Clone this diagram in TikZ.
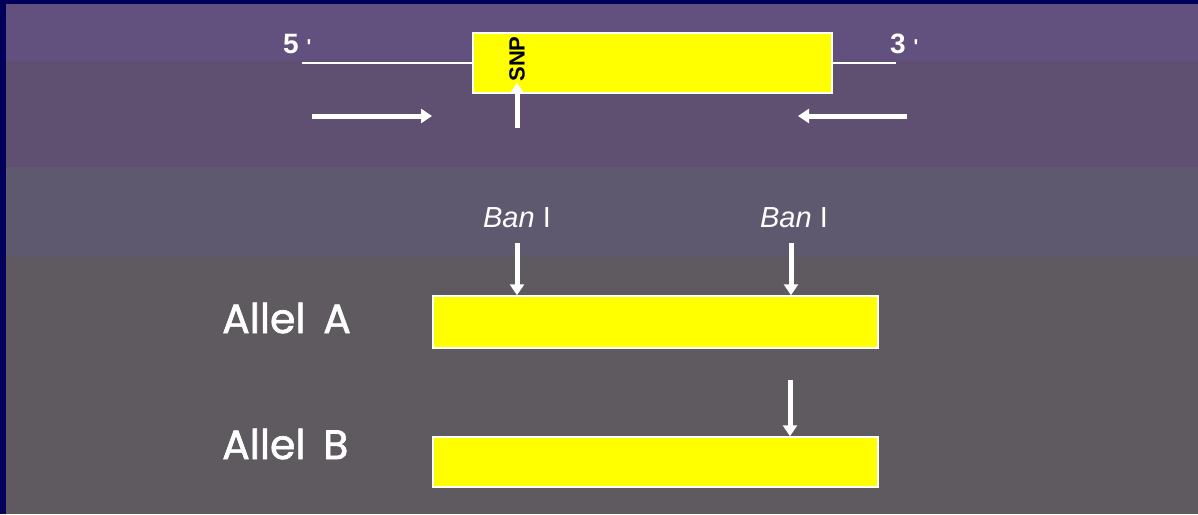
\documentclass[tikz,border=0pt]{standalone}
\usepackage{fontspec}
\setmainfont{Liberation Sans}
\newfontfamily\handfont[FakeBold=1.6]{Poppins}
\usetikzlibrary{arrows.meta}

\definecolor{frame}{HTML}{00005A}
\definecolor{bandA}{HTML}{62507F}
\definecolor{bandB}{HTML}{5F4F70}
\definecolor{bandC}{HTML}{5F5970}
\definecolor{bandD}{HTML}{5F5960}
\definecolor{gene}{HTML}{FFFF00}

\tikzset{
  x=1pt, y=-1pt,
  genebox/.style={draw=white, line width=1.5pt, fill=gene, inner sep=0pt},
  strand/.style={draw=white, line width=1.5pt},
  bigarrow/.style={draw=white, line width=5pt,
    -{Triangle[width=14pt,length=11pt]}},
  endlabel/.style={text=white, font=\bfseries\fontsize{28}{30}\selectfont,
    inner sep=0pt, anchor=base west},
  enzyme/.style={text=white, font=\fontsize{29}{31}\selectfont, inner sep=0pt},
  allele/.style={text=white, font=\handfont\fontsize{41}{44}\selectfont,
    inner sep=0pt, anchor=base west},
}

\begin{document}
\begin{tikzpicture}
% background: navy frame and shaded bands
\useasboundingbox (0,0) rectangle (1198,514);
\fill[frame] (0,0) rectangle (1198,514);
\fill[bandA] (6,4) rectangle (1198,61);
\fill[bandB] (6,61) rectangle (1198,167);
\fill[bandC] (6,167) rectangle (1198,257);
\fill[bandD] (6,257) rectangle (1198,514);

% gene with flanking strand
\node[genebox, minimum width=359pt, minimum height=60pt] (gene) at (652.5,63) {};
\coordinate (fiveend) at (302,63);
\coordinate (threeend) at (896,63);
\draw[strand] (fiveend) -- (gene.west);
\draw[strand] (gene.east) -- (threeend);
\node[endlabel] (five) at (283,53) {5 {\fontsize{20}{22}\selectfont\textquotesingle}};
\node[endlabel] (three) at (890,53) {3 {\fontsize{20}{22}\selectfont\textquotesingle}};

% SNP position
\node[rotate=90, font=\bfseries\fontsize{22}{24}\selectfont, inner sep=1pt] (snp) at (517,59) {SNP};
\coordinate (snpfoot) at (517,128);
\draw[bigarrow] (snpfoot) -- (snp.west);

% primers
\coordinate (fwdA) at (312,116);
\coordinate (fwdB) at (432,116);
\coordinate (revA) at (907,116);
\coordinate (revB) at (798,116);
\draw[bigarrow] (fwdA) -- (fwdB);
\draw[bigarrow] (revA) -- (revB);

% restriction sites
\node[enzyme] (ban1) at (517,218) {\textit{Ban} I};
\node[enzyme] (ban2) at (794,218) {\textit{Ban} I};

% alleles
\node[genebox, minimum width=445pt, minimum height=52pt] (allA) at (655.5,322) {};
\node[genebox, minimum width=445pt, minimum height=50pt] (allB) at (655.5,462) {};
\node[allele] (labA) at (222,333) {Allel\, A};
\node[allele] (labB) at (222,459) {Allel\, B};

\coordinate (cut1) at (517,243);
\coordinate (cut2) at (791,243);
\coordinate (cut3) at (790,380);
\draw[bigarrow] (cut1) -- (cut1 |- allA.north);
\draw[bigarrow] (cut2) -- (cut2 |- allA.north);
\draw[bigarrow] (cut3) -- (cut3 |- allB.north);
\end{tikzpicture}
\end{document}
